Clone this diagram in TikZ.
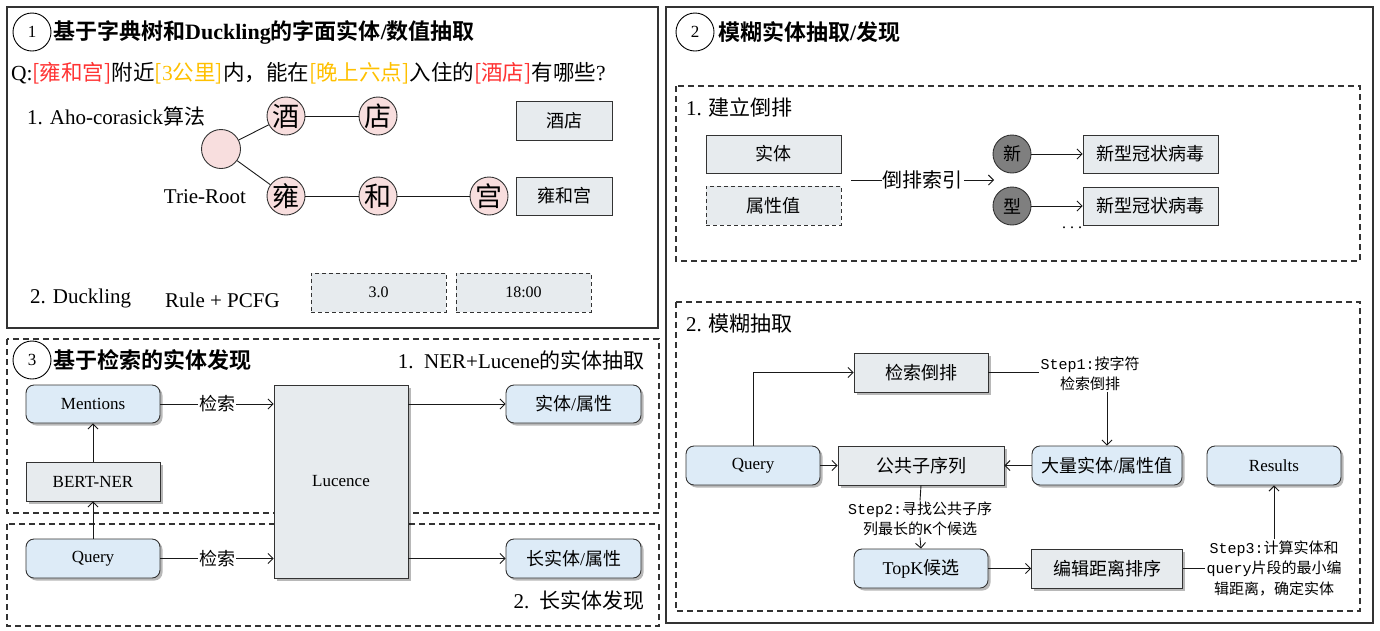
\documentclass[tikz,border=0pt]{standalone}
\usepackage{fontspec}
\setmainfont{Liberation Serif}
\setmonofont{Liberation Mono}
\newfontfamily\zhfam{Noto Sans CJK SC}[BoldFont={Noto Sans CJK SC Bold}]
\usetikzlibrary{arrows.meta,shadows}
% automatic switching between Latin and CJK fonts
\XeTeXinterchartokenstate=1
\newXeTeXintercharclass\zhcls
\newcount\zhc
\zhc="4E00
\loop
  \XeTeXcharclass\zhc=\zhcls
  \ifnum\zhc<"9FFF \advance\zhc by 1
\repeat
\XeTeXcharclass"FF0C=\zhcls
\XeTeXcharclass"FF1F=\zhcls
\XeTeXcharclass"3001=\zhcls
\XeTeXcharclass"3002=\zhcls
\XeTeXcharclass`[=\zhcls
\XeTeXcharclass`]=\zhcls
\let\latsel\rmfamily
\newcommand\zhfont{\zhfam}
\newcommand\latfont{\latsel}
\XeTeXinterchartoks 0 \zhcls = {\zhfont}
\XeTeXinterchartoks 4095 \zhcls = {\zhfont}
\XeTeXinterchartoks \zhcls 0 = {\latfont}
\XeTeXinterchartoks \zhcls 4095 = {\latfont}
\XeTeXinterchartoks 4095 0 = {\latfont}
\definecolor{boxgray}{HTML}{E7EBEE}
\definecolor{boxblue}{HTML}{DDEBF7}
\definecolor{pinkc}{HTML}{F8DEDE}
\definecolor{darkc}{HTML}{7F7F7F}
\definecolor{qred}{HTML}{FF3333}
\definecolor{qorg}{HTML}{FFC000}
\definecolor{edge}{HTML}{333333}
\tikzset{
  panel/.style={draw=edge, line width=1.3pt},
  dpanel/.style={draw=edge, line width=1.1pt, dash pattern=on 6pt off 4pt},
  base/.style={draw=edge, line width=0.9pt, inner sep=0pt, align=center},
  shad/.style={drop shadow={shadow xshift=2.5pt,shadow yshift=-2.5pt,opacity=0.28,fill=black}},
  gbox/.style={base, rectangle, fill=boxgray, minimum width=134, minimum height=39, font=\fontsize{18}{21}\selectfont},
  bbox/.style={base, rectangle, rounded corners=8pt, fill=boxblue, minimum width=134, minimum height=39, font=\fontsize{17}{20}\selectfont, shad},
  dbox/.style={gbox, dash pattern=on 4pt off 3pt, font=\fontsize{16}{19}\selectfont},
  tcirc/.style={base, circle, fill=pinkc, minimum size=38, font=\fontsize{27}{30}\selectfont},
  kcirc/.style={base, circle, fill=darkc, minimum size=38, font=\fontsize{18}{21}\selectfont},
  numc/.style={draw=black, line width=0.9pt, circle, minimum size=38, inner sep=0pt, font=\fontsize{17}{20}\selectfont},
  ttl/.style={anchor=west, inner sep=0pt, font=\bfseries\fontsize{22}{26}\selectfont},
  txt/.style={inner sep=0pt, font=\fontsize{21}{25}\selectfont},
  steptxt/.style={inner sep=1pt, align=center, font={\let\latsel\ttfamily\ttfamily\fontsize{15}{20.5}\selectfont}},
  ln/.style={draw=black!90, line width=0.9pt},
  arr/.style={ln, -{Straight Barb[length=5pt,width=10pt]}},
  lbl/.style={fill=white, inner sep=1pt, font=\fontsize{18}{21}\selectfont}
}
\begin{document}
\begin{tikzpicture}[x=1pt,y=-1pt]
\useasboundingbox (0,0) rectangle (1380,630);

% ================= Panel 1 =================
\draw[panel] (7,7) rectangle (658,328);
\node[numc] (c1) at (32,32) {1};
\node[ttl] (t1) at (53,32) {基于字典树和Duckling的字面实体/数值抽取};
\node[txt, anchor=west, font=\fontsize{21.5}{25}\selectfont] (q) at (11,73) {Q:\textcolor{qred}{[雍和宫]}附近\textcolor{qorg}{[3公里]}内，能在\textcolor{qorg}{[晚上六点]}入住的\textcolor{qred}{[酒店]}有哪些?};
\node[txt, anchor=west] (aho) at (27,116) {1. Aho-corasick算法};
\node[tcirc, minimum size=39] (root) at (221,149) {};
\node[txt] (trl) at (205,197) {Trie-Root};
\node[tcirc] (jiu) at (286,116) {酒};
\node[tcirc] (dian) at (378,116) {店};
\node[tcirc] (yong) at (286,196) {雍};
\node[tcirc] (he) at (378,196) {和};
\node[tcirc] (gong) at (489,196) {宫};
\draw[ln] (root) -- (jiu);
\draw[ln] (root) -- (yong);
\draw[ln] (jiu) -- (dian);
\draw[ln] (yong) -- (he);
\draw[ln] (he) -- (gong);
\node[gbox, minimum width=96] (bjd) at (564,121) {酒店};
\node[gbox, minimum width=96, minimum height=38] (byhg) at (564,196) {雍和宫};
\node[txt, anchor=west] (duck) at (30,298) {2. Duckling};
\node[txt, anchor=west] (pcfg) at (165,300) {Rule + PCFG};
\node[dbox, minimum width=135] (v30) at (378.5,292.5) {3.0};
\node[dbox, minimum width=135] (v18) at (523.5,292.5) {18:00};

% ================= Panel 2 =================
\draw[panel] (666,7) rectangle (1373,623);
\node[numc] (c2) at (695,32) {2};
\node[ttl] (t2) at (718,32) {模糊实体抽取/发现};
\draw[dpanel] (676,86) rectangle (1360,261);
\node[txt, anchor=west] (p21) at (686,107) {1. 建立倒排};
\node[gbox, minimum width=135, minimum height=38] (st) at (773.5,154) {实体};
\node[dbox, minimum width=135, font=\fontsize{18}{21}\selectfont] (sx) at (773.5,205.5) {属性值};
\coordinate (ia) at (851,180);
\coordinate (ib) at (994,180);
\draw[arr] (ia) -- node[lbl, font=\fontsize{20}{23}\selectfont] {倒排索引} (ib);
\node[kcirc] (xin) at (1012,154) {新};
\node[kcirc] (xing) at (1012,206) {型};
\node[gbox, minimum width=135, minimum height=38] (r1) at (1150.5,154) {新型冠状病毒};
\node[gbox, minimum width=135, minimum height=38] (r2) at (1150.5,206) {新型冠状病毒};
\draw[arr] (xin) -- (r1);
\draw[arr] (xing) -- (r2);
\node[inner sep=0pt, font=\fontsize{16}{19}\selectfont] (dots) at (1072,228) {.\hspace{4pt}.\hspace{4pt}.};

\draw[dpanel] (676,302) rectangle (1360,611);
\node[txt, anchor=west] (p22) at (686,324) {2. 模糊抽取};
\node[gbox, shad] (jspp) at (921,372.5) {检索倒排};
\node[bbox] (qy2) at (753,465.5) {Query};
\node[gbox, shad, minimum width=166] (lcs) at (921,465.5) {公共子序列};
\node[bbox, minimum width=150, font=\fontsize{18}{21}\selectfont] (big) at (1107,465.5) {大量实体/属性值};
\node[bbox] (res) at (1274,465.5) {Results};
\node[bbox, font=\fontsize{18}{21}\selectfont] (topk) at (921,568.5) {TopK候选};
\node[gbox, shad, minimum width=151] (edit) at (1107,568.5) {编辑距离排序};
\node[steptxt] (s1) at (1090,373.5) {Step1:按字符\\检索倒排};
\node[steptxt] (s2) at (920,519) {Step2:寻找公共子序\\列最长的K个候选};
\node[steptxt] (s3) at (1274,568) {Step3:计算实体和\\query片段的最小编\\辑距离，确定实体};
\draw[arr] (qy2.north) |- (jspp.west);
\draw[ln] (jspp.east) -- (jspp.east -| s1.west);
\draw[arr] (s1.south -| big.north) -- (big.north);
\draw[arr] (qy2) -- (lcs);
\draw[arr] (big) -- (lcs);
\draw[ln] (lcs.south) -- (s2.north);
\draw[arr] (s2.south) -- (topk.north);
\draw[arr] (topk) -- (edit);
\draw[ln] (edit.east) -- (edit.east -| s3.west);
\draw[arr] (s3.north) -- (res.south);

% ================= Panel 3 =================
\draw[dpanel] (7,339) rectangle (659,513);
\draw[dpanel] (7,524) rectangle (659,626);
\node[numc] (c3) at (32,360) {3};
\node[ttl] (t3) at (53,360) {基于检索的实体发现};
\node[txt, anchor=east] (p31) at (645,360) {1.\ \ NER+Lucene的实体抽取};
\node[txt, anchor=east] (p32) at (645,600) {2.\ \ 长实体发现};
\node[bbox, minimum height=38] (men) at (93,404) {Mentions};
\node[gbox, shad, font=\fontsize{17}{20}\selectfont] (bert) at (93,481.5) {BERT-NER};
\node[bbox] (qy3) at (93,558.5) {Query};
\node[gbox, shad, minimum height=193, font=\fontsize{17}{20}\selectfont] (luc) at (341,481.5) {Lucence};
\node[bbox, minimum width=135, minimum height=38, font=\fontsize{18}{21}\selectfont] (ent) at (573.5,404) {实体/属性};
\node[bbox, minimum width=135, font=\fontsize{18}{21}\selectfont] (lent) at (573.5,558.5) {长实体/属性};
\draw[arr] (qy3) -- (bert);
\draw[arr] (bert) -- (men);
\draw[arr] (men) -- node[lbl] {检索} (men -| luc.west);
\draw[arr] (qy3) -- node[lbl] {检索} (qy3 -| luc.west);
\draw[arr] (luc.east |- ent) -- (ent);
\draw[arr] (luc.east |- lent) -- (lent);
\end{tikzpicture}
\end{document}
